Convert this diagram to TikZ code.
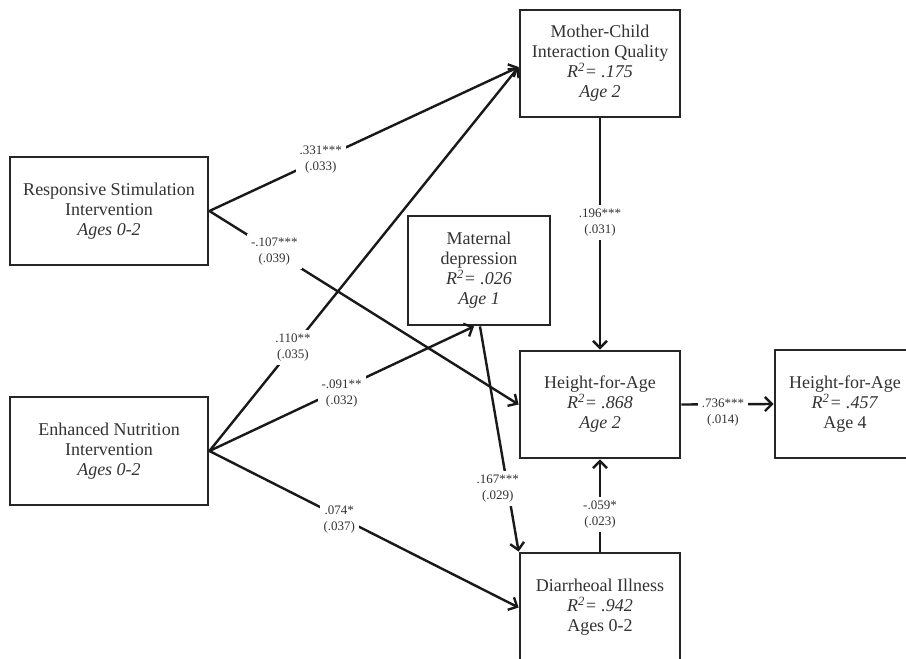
\documentclass[tikz,border=0pt]{standalone}
\usepackage{fontspec}
\setmainfont{Liberation Serif}
\usetikzlibrary{arrows.meta,calc}
\begin{document}
\begin{tikzpicture}[x=1pt,y=-1pt,
  box/.style={draw=black!85, line width=2.8pt, fill=white, align=center, inner sep=0pt,
    font=\fontsize{18}{20}\selectfont, text=black!80},
  path/.style={draw=black!90, line width=2.4pt, -{Straight Barb[length=7pt,width=14pt]}},
  lbl/.style={fill=white, align=center, inner sep=4pt, text=black!80, font=\fontsize{13}{16}\selectfont}
]
\useasboundingbox (0,0) rectangle (906,659);
\fill[white] (0,0) rectangle (906,659);
\node[box, minimum width=198pt, minimum height=108pt] (RS) at (109,211)
  {Responsive Stimulation\\Intervention\\\textit{Ages 0-2}};
\node[box, minimum width=198pt, minimum height=108pt] (EN) at (109,451)
  {Enhanced Nutrition\\Intervention\\\textit{Ages 0-2}};
\node[box, minimum width=160pt, minimum height=107pt] (MCI) at (600,63.5)
  {Mother-Child\\Interaction Quality\\\textit{R\textsuperscript{2}= .175}\\\textit{Age 2}};
\node[box, minimum width=142pt, minimum height=109pt] (MD) at (479,270.5)
  {Maternal\\depression\\\textit{R\textsuperscript{2}= .026}\\\textit{Age 1}};
\node[box, minimum width=160pt, minimum height=107pt] (HA2) at (600,404.5)
  {Height-for-Age\\\textit{R\textsuperscript{2}= .868}\\\textit{Age 2}};
\node[box, minimum width=140pt, minimum height=108pt] (HA4) at (845,404)
  {Height-for-Age\\\textit{R\textsuperscript{2}= .457}\\Age 4};
\node[box, minimum width=160pt, minimum height=109pt] (DI) at (600,607.5)
  {Diarrheoal Illness\\\textit{R\textsuperscript{2}= .942}\\Ages 0-2};

\coordinate (mciin) at ($(MCI.west)+(0,3.5)$);
\coordinate (mdin) at ($(MD.south)+(-5,0)$);
\coordinate (mdout) at ($(MD.south)+(1,0)$);

\draw[path] (RS.east) -- (mciin) node[lbl, pos=0.36] {.331***\\(.033)};
\draw[path] (RS.east) -- (HA2.west) node[lbl, pos=0.21] {-.107***\\(.039)};
\draw[path] (EN.east) -- (mciin) node[lbl, pos=0.27] {.110**\\(.035)};
\draw[path] (EN.east) -- (mdin) node[lbl, pos=0.5, yshift=-5pt] {-.091**\\(.032)};
\draw[path] (EN.east) -- (DI.west) node[lbl, pos=0.42, yshift=-3pt] {.074*\\(.037)};
\draw[path] (MCI.south) -- (HA2.north) node[lbl, pos=0.45] {.196***\\(.031)};
\draw[path] (mdout) -- (DI.north west) node[lbl, pos=0.72, xshift=-10pt] {.167***\\(.029)};
\draw[path] (DI.north) -- (HA2.south) node[lbl, pos=0.4] {-.059*\\(.023)};
\draw[path] (HA2.east) -- (HA4.west) node[lbl, pos=0.45, yshift=-8pt] {.736***\\(.014)};
\end{tikzpicture}
\end{document}
